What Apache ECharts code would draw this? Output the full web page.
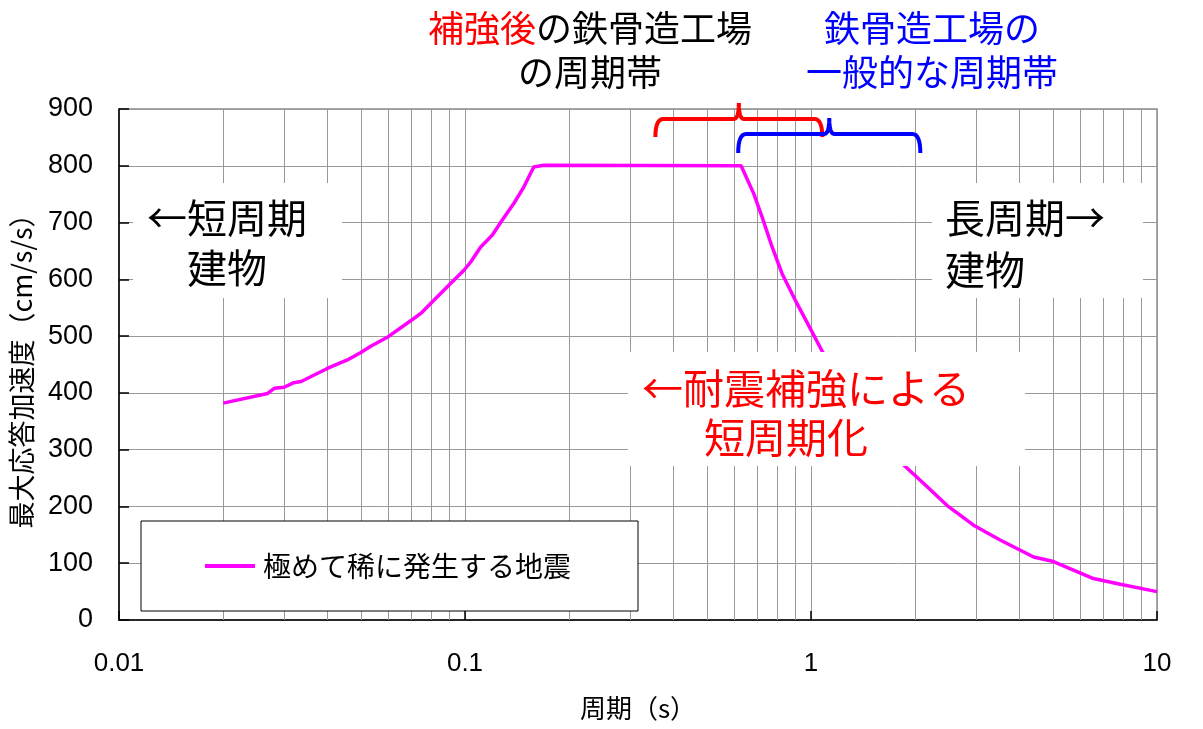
<!DOCTYPE html>
<html>
<head>
<meta charset="utf-8">
<script src="https://cdn.jsdelivr.net/npm/echarts@6/dist/echarts.min.js"></script>
<style>
html,body{margin:0;padding:0;background:#fff;}
#chart{width:1203px;height:729px;}
</style>
</head>
<body>
<div id="chart"></div>
<script>
// ---- data ----
var seriesName = '極めて稀に発生する地震';
var periods = [0.020, 0.0269, 0.0281, 0.030, 0.032, 0.0336, 0.040, 0.0457, 0.050, 0.0534, 0.060, 0.070, 0.0745, 0.0813, 0.091, 0.0993, 0.104, 0.111, 0.120, 0.127, 0.1385, 0.148, 0.158, 0.169, 0.628, 0.683, 0.722, 0.772, 0.825, 0.901, 1.0, 1.08, 1.853, 2.163, 2.47, 2.95, 3.52, 4.40, 5.02, 6.55, 7.83, 10.0];
var accel   = [382, 399, 408, 410, 418, 420, 443, 458, 471, 482, 499, 528, 540, 563, 593, 616, 631, 657, 678, 701, 734, 763, 798, 801, 800, 751, 710, 657, 610, 563, 511, 472, 273, 235, 202, 167, 141, 111, 103, 73, 63, 50];
var minorTicks = [0.02,0.03,0.04,0.05,0.06,0.07,0.08,0.09, 0.2,0.3,0.4,0.5,0.6,0.7,0.8,0.9, 2,3,4,5,6,7,8,9];
var redBand = [0.355, 1.078];   // 補強後の鉄骨造工場の周期帯
var blueBand = [0.616, 2.07];   // 鉄骨造工場の一般的な周期帯
var xAxisName = '周期（s）';
var yAxisName = '最大応答加速度（cm/s/s）';

var JP = '"Noto Sans CJK JP", sans-serif';
var NUM = '"Liberation Sans", "Noto Sans CJK JP", sans-serif';

var chart = echarts.init(document.getElementById('chart'), null, {renderer:'canvas'});

var lineData = periods.map(function(p,i){ return [p, accel[i]]; });

var option = {
  animation: false,
  backgroundColor: '#fff',
  grid: {left:118, right:46, top:109, bottom:109, show:true, borderColor:'#8c8c8c', borderWidth:1.5, backgroundColor:'transparent'},
  xAxis: {
    type:'log', logBase:10, min:0.01, max:10,
    name: xAxisName, nameLocation:'middle', nameGap:75,
    nameTextStyle:{fontFamily:JP, fontSize:26, color:'#000'},
    axisLine:{lineStyle:{color:'#000', width:1.5}},
    axisTick:{show:true, inside:true, length:9, lineStyle:{color:'#000', width:1.5}},
    axisLabel:{color:'#000', fontFamily:NUM, fontSize:26, margin:31,
      formatter:function(v){ return String(+v.toPrecision(3)); }},
    splitLine:{show:true, lineStyle:{color:'#999', width:1}},
    minorTick:{show:false}, minorSplitLine:{show:false}
  },
  yAxis: {
    type:'value', min:0, max:900, interval:100,
    name: yAxisName, nameLocation:'middle', nameGap:84,
    nameTextStyle:{fontFamily:JP, fontSize:27, color:'#000'},
    axisLine:{show:true, lineStyle:{color:'#000', width:1.5}},
    axisTick:{show:true, inside:true, length:10, lineStyle:{color:'#000', width:1.5}},
    axisLabel:{color:'#000', fontFamily:NUM, fontSize:27, margin:26},
    splitLine:{show:true, lineStyle:{color:'#999', width:1}}
  },
  legend: {
    data:[{name:seriesName, icon:'rect'}],
    left:141, top:521,
    padding:[31,67,31,64],
    itemWidth:50, itemHeight:4, itemGap:0,
    backgroundColor:'#fff', borderColor:'#000', borderWidth:1, borderRadius:0,
    textStyle:{fontFamily:JP, fontSize:28, color:'#000', padding:[0,0,0,3]},
    z: 60
  },
  series: [
    {
      name:'minor-grid', type:'line', data:[], z:1, silent:true,
      markLine:{silent:true, symbol:['none','none'], label:{show:false},
        lineStyle:{color:'#999', width:1, type:'solid'},
        data: minorTicks.map(function(v){ return {xAxis:v}; })}
    },
    {
      name:seriesName, type:'line', data:lineData, z:5,
      showSymbol:false, symbol:'none',
      lineStyle:{color:'#ff00ff', width:3.5},
      itemStyle:{color:'#ff00ff'}
    }
  ]
};
chart.setOption(option);

function px(x, y){ return chart.convertToPixel({gridIndex:0}, [x, y]); }

// quadratic bezier sampled into points
function quad(p0, c, p1, n){
  var out = [];
  for (var i = 1; i <= n; i++){
    var t = i / n, u = 1 - t;
    out.push([u*u*p0[0] + 2*u*t*c[0] + t*t*p1[0], u*u*p0[1] + 2*u*t*c[1] + t*t*p1[1]]);
  }
  return out;
}
function brace(x0, x1, yh, yb, yp){
  var xc = (x0 + x1) / 2, r = 8, pts = [[x0, yb]];
  pts = pts.concat(quad([x0, yb], [x0, yh], [x0 + r, yh], 8));
  pts.push([xc - 5, yh]);
  pts = pts.concat(quad([xc - 5, yh], [xc, yh], [xc, yp], 6));
  pts = pts.concat(quad([xc, yp], [xc, yh], [xc + 5, yh], 6));
  pts.push([x1 - r, yh]);
  pts = pts.concat(quad([x1 - r, yh], [x1, yh], [x1, yb], 8));
  return pts;
}

var top0 = px(0.01, 900)[1];
var rx0 = px(redBand[0], 900)[0], rx1 = px(redBand[1], 900)[0];
var bx0 = px(blueBand[0], 900)[0], bx1 = px(blueBand[1], 900)[0];

function txt(t, x, y, color, size, align){
  return {type:'text', z:80, x:x, y:y, style:{text:t, fill:color, font:size + 'px ' + JP, textAlign:align || 'left', textVerticalAlign:'middle'}};
}
function box(x, y, w, h){
  return {type:'rect', z:70, shape:{x:x, y:y, width:w, height:h}, style:{fill:'#fff'}};
}

var graphic = [
  box(133, 183, 209, 115),
  box(932, 183, 211, 115),
  box(628, 352, 397, 114),
  txt('←短周期', 147, 218, '#000', 40),
  txt('建物', 187, 268, '#000', 40),
  txt('長周期→', 945, 218, '#000', 40),
  txt('建物', 945, 270, '#000', 40),
  txt('←耐震補強による', 642, 388, '#ff0000', 41),
  txt('短周期化', 704, 437, '#ff0000', 41),
  txt('補強後', 428, 28, '#ff0000', 36),
  txt('の鉄骨造工場', 536, 28, '#000', 36),
  txt('の周期帯', 590, 72, '#000', 36, 'center'),
  txt('鉄骨造工場の', 932, 28, '#0000ff', 36, 'center'),
  txt('一般的な周期帯', 932, 72, '#0000ff', 36, 'center'),
  {type:'polyline', z:80, shape:{points: brace(rx0, rx1, top0 + 10, top0 + 28, top0 - 6)},
    style:{fill:null, stroke:'#ff0000', lineWidth:4}},
  {type:'polyline', z:80, shape:{points: brace(bx0, bx1, top0 + 25, top0 + 44, top0 + 9)},
    style:{fill:null, stroke:'#0000ff', lineWidth:4}}
];
chart.setOption({graphic: graphic});
</script>
</body>
</html>
